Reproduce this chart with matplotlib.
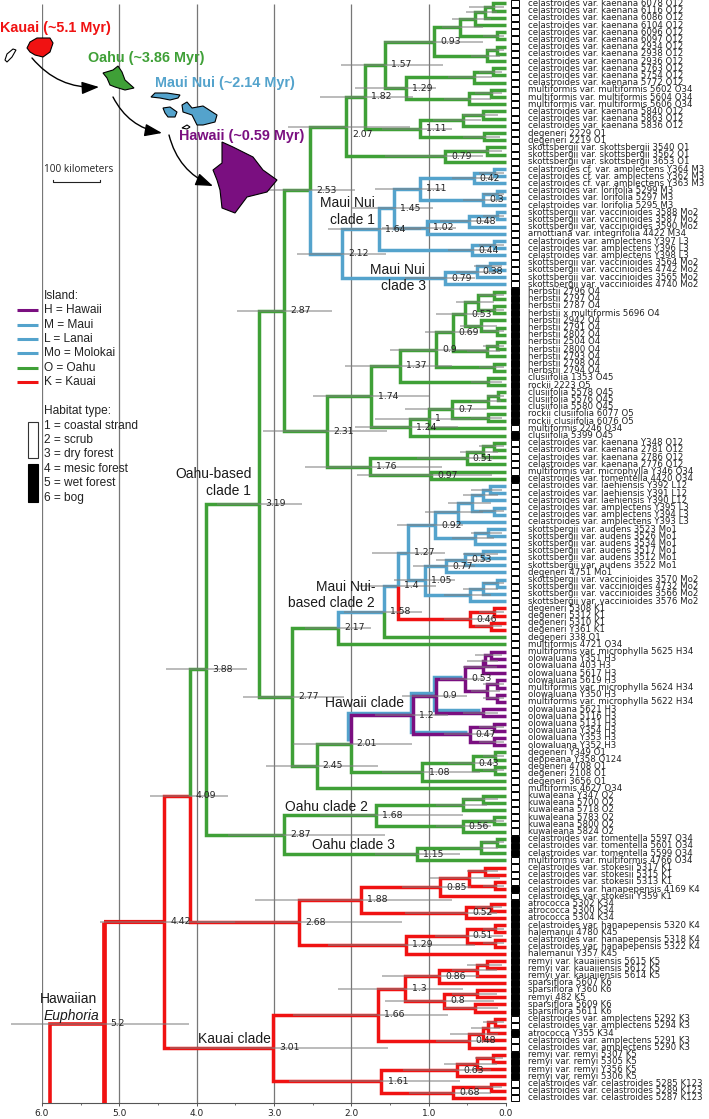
import re
import matplotlib
matplotlib.use('Agg')
from matplotlib import pyplot as plt
from matplotlib.patches import Polygon, Rectangle, FancyArrowPatch
from matplotlib.transforms import ScaledTranslation

plt.rcParams['font.family'] = ['DejaVu Sans']

# taxon labels, top to bottom
taxa = [
 'celastroides var. kaenana 6078 O12','celastroides var. kaenana 6116 O12','celastroides var. kaenana 6086 O12',
 'celastroides var. kaenana 6104 O12','celastroides var. kaenana 6096 O12','celastroides var. kaenana 6097 O12',
 'celastroides var. kaenana 2934 O12','celastroides var. kaenana 2938 O12','celastroides var. kaenana 2936 O12',
 'celastroides var. kaenana 5763 O12','celastroides var. kaenana 5754 O12','celastroides var. kaenana 5772 O12',
 'multiformis var. multiformis 5602 O34','multiformis var. multiformis 5604 O34','multiformis var. multiformis 5606 O34',
 'celastroides var. kaenana 5840 O12','celastroides var. kaenana 5863 O12','celastroides var. kaenana 5836 O12',
 'degeneri 2229 O1','degeneri 2219 O1',
 'skottsbergii var. skottsbergii 3540 O1','skottsbergii var. skottsbergii 3562 O1','skottsbergii var. skottsbergii 3653 O1',
 'celastroides cf. var. amplectens Y364 M3','celastroides cf. var. amplectens Y362 M3','celastroides cf. var. amplectens Y363 M3',
 'celastroides var. lorifolia 5299 M3','celastroides var. lorifolia 5297 M3','celastroides var. lorifolia 5295 M3',
 'skottsbergii var. vaccinioides 3588 Mo2','skottsbergii var. vaccinioides 3587 Mo2','skottsbergii var. vaccinioides 3590 Mo2',
 'arnottiana var. integrifolia 4422 M34',
 'celastroides var. amplectens Y397 L3','celastroides var. amplectens Y396 L3','celastroides var. amplectens Y398 L3',
 'skottsbergii var. vaccinioides 3564 Mo2','skottsbergii var. vaccinioides 4742 Mo2','skottsbergii var. vaccinioides 3565 Mo2',
 'skottsbergii var. vaccinioides 4740 Mo2',
 'herbstii 2796 O4','herbstii 2797 O4','herbstii 2787 O4','herbstii x multiformis 5696 O4','herbstii 2942 O4',
 'herbstii 2791 O4','herbstii 2802 O4','herbstii 2504 O4','herbstii 2800 O4','herbstii 2793 O4','herbstii 2798 O4','herbstii 2794 O4',
 'clusiifolia 1353 O45','rockii 2223 O5','clusiifolia 5578 O45','clusiifolia 5576 O45','clusiifolia 5580 O45',
 'rockii clusiifolia 6077 O5','rockii clusiifolia 6076 O5','multiformis 2246 O34','clusiifolia 5399 O45',
 'celastroides var. kaenana Y348 O12','celastroides var. kaenana 2781 O12','celastroides var. kaenana 2786 O12','celastroides var. kaenana 2776 O12',
 'multiformis var. microphylla Y346 O34','celastroides var. tomentella 4420 O34',
 'celastroides var. laehiensis Y392 L12','celastroides var. laehiensis Y391 L12','celastroides var. laehiensis Y390 L12',
 'celastroides var. amplectens Y395 L3','celastroides var. amplectens Y394 L3','celastroides var. amplectens Y393 L3',
 'skottsbergii var. audens 3523 Mo1','skottsbergii var. audens 3526 Mo1','skottsbergii var. audens 3534 Mo1',
 'skottsbergii var. audens 3517 Mo1','skottsbergii var. audens 3512 Mo1','skottsbergii var. audens 3522 Mo1','degeneri 4751 Mo1',
 'skottsbergii var. vaccinioides 3570 Mo2','skottsbergii var. vaccinioides 4732 Mo2','skottsbergii var. vaccinioides 3566 Mo2','skottsbergii var. vaccinioides 3576 Mo2',
 'degeneri 5308 K1','degeneri 5312 K1','degeneri 5310 K1','degeneri Y361 K1','degeneri 338 O1','multiformis 4721 O34',
 'multiformis var. microphylla 5625 H34','olowaluana Y351 H3','olowaluana 403 H3','olowaluana 5617 H3','olowaluana 5619 H3',
 'multiformis var. microphylla 5624 H34','olowaluana Y350 H3','multiformis var. microphylla 5622 H34','olowaluana 5621 H3','olowaluana 5116 H3',
 'olowaluana 5131 H3','olowaluana Y354 H3','olowaluana Y353 H3','olowaluana Y352 H3',
 'degeneri Y349 O1','deppeana Y358 O124','degeneri 4708 O1','degeneri 2108 O1','degeneri 3656 O1','multiformis 4627 O34',
 'kuwaleana Y347 O2','kuwaleana 5700 O2','kuwaleana 5718 O2','kuwaleana 5783 O2','kuwaleana 5800 O2','kuwaleana 5824 O2',
 'celastroides var. tomentella 5597 O34','celastroides var. tomentella 5601 O34','celastroides var. tomentella 5599 O34','multiformis var. multiformis 4766 O34',
 'celastroides var. stokesii 5317 K1','celastroides var. stokesii 5315 K1','celastroides var. stokesii 5313 K1',
 'celastroides var. hanapepensis 4169 K4','celastroides var. stokesii Y359 K1',
 'atrococca 5302 K34','atrococca 5300 K34','atrococca 5304 K34','celastroides var. hanapepensis 5320 K4','halemanui 4780 K45',
 'celastroides var. hanapepensis 5318 K4','celastroides var. hanapepensis 5322 K4','halemanui Y357 K45',
 'remyi var. kauaiiensis 5615 K5','remyi var. kauaiiensis 5612 K5','remyi var. kauaiiensis 5614 K5','sparsiflora 5607 K6','sparsiflora Y360 K6',
 'remyi 482 K5','sparsiflora 5609 K6','sparsiflora 5611 K6',
 'celastroides var. amplectens 5292 K3','celastroides var. amplectens 5294 K3','atrococca Y355 K34',
 'celastroides var. amplectens 5291 K3','celastroides var. amplectens 5290 K3',
 'remyi var. remyi 5307 K5','remyi var. remyi 5305 K5','remyi var. remyi Y356 K5','remyi var. remyi 5306 K5',
 'celastroides var. celastroides 5285 K123','celastroides var. celastroides 5289 K123','celastroides var. celastroides 5287 K123',
]

# taxon numbers (from 1) with a black habitat box
habitat_black = [*range(41, 60), 61, 67, 117, 118, 119, 124, *range(126, 142), 144, *range(147, 151)]

# tree pieces: (child,child)age/younger/older  * = print the age, =c = branch colour, t = tip
# green part of the Oahu clade 1
c093 = "(((((t,t).17/.03/.48,t).27/.12/.52,t).4/.2/.7,(t,t).12/.02/.3).6/.3/.83,((t,t).11/.02/.25,t).25/.08/.45).93/.3/1.58*"
c129 = "(((t,t).17/.05/.35,t).41/.18/.75,((t,t).19/.05/.4,t).48/.2/.8)1.29/.9/1.95*"
c111 = "(((t,t).3/.1/.55,t).56/.32/.95,(t,t).28/.08/.55)1.11/.7/1.6*"
c079a = "((t,t).25/.05/.5,t).79/.3/1.56*"
c207 = f"((({c093},{c129})1.57/.81/2.14*,{c111})1.82/1.2/2.4*,{c079a})2.07/1.24/2.82*"
# Maui Nui clades 1 and 3
c042 = "((t,t).15/.03/.35,t).42/.15/.7*"
c03 = "((t,t).12/.02/.3,t).3/.08/.55*"
c111b = f"({c042},{c03})1.11/.81/1.69*"
c048 = "((t,t).12/.02/.3,t).48/.2/.85*"
c102 = f"({c048},t)1.02/.65/1.6*"
c145 = f"({c111b},{c102})1.45/.95/2*"
c044 = "((t,t).15/.03/.35,t).44/.2/.75*"
c164 = f"({c145},{c044})1.64/1.1/2.3*"
c038 = "((t,t).21/.05/.42,t).38/.1/.65*"
c079b = f"({c038},t).79/.4/1.3*"
c212 = f"({c164},{c079b})2.12/1.55/2.7*=b"
c253 = f"({c207},{c212})2.53/1.95/3.14*"
# herbstii, clusiifolia
h053 = "(((t,t).15/.03/.35,(t,t).15/.03/.35).36/.15/.65,(t,(t,t).12/.02/.3).32/.12/.6).53/.3/.9*"
h069 = f"({h053},((t,t).12/.02/.3,t).25/.08/.5).69/.38/1.05*"
h09 = f"({h069},(t,t).15/.03/.35).9/.25/1.5*"
h137 = f"({h09},(t,t).23/.05/.45)1.37/.7/2.08*"
c07 = "(((t,t).1/.02/.25,t).23/.07/.45,(t,t).23/.05/.45).7/.25/1.3*"
c1 = f"({c07},t)1/.45/1.7*"
c124 = f"({c1},t)1.24/.62/1.95*"
c174 = f"({h137},{c124})1.74/1/2.5*"
c051 = "(((t,t).15/.03/.35,t).3/.1/.6,t).51/.17/1.15*"
c097 = "(t,t).97/.18/1.93*"
c176 = f"({c051},{c097})1.76/.83/2.6*"
c231 = f"({c174},{c176})2.31/1.54/3.14*"
c287a = f"({c253},{c231})2.87/2.25/3.48*"
# Maui Nui based clade 2
c062 = "((((t,t).21/.05/.45,t).3/.1/.55,(t,t).15/.03/.35).44/.2/.75,t).62/.3/1.05"
c040 = "((t,t).23/.05/.45,t).4/.15/.7"
c092 = f"({c062},{c040}).92/.55/1.41*"
c053b = "((t,t).3/.1/.55,t).53/.25/.9*"
c077 = f"({c053b},t).77/.4/1.2*"
c047b = "(((t,t).12/.02/.3,t).3/.1/.55,t).47/.2/.8"
c105 = f"({c077},{c047b})1.05/.66/1.45*"
c127 = f"({c092},{c105})1.27/.79/1.73*"
c046 = "((t,t).15/.03/.35,(t,t).2/.05/.4).46/.2/.8*=r"
c14 = f"({c127},{c046})1.4/.9/1.9*"
c158 = f"({c14},t=g)1.58/1.09/2.1*=b"
c217 = f"({c158},t)2.17/1.75/2.6*"
# Hawaii clade
h053h = "((((t,t).2/.05/.4,t).27/.1/.5,t).3/.12/.55=p,((t,t).12/.02/.3,(t,t).12/.02/.3).24/.08/.45=p).53/.3/.85*=q"
c09h = f"({h053h},(t=p,t=p).3/.1/.55=q).9/.5/1.35*=q"
c047h = "((t,t).15/.03/.35=p,(t,t).15/.03/.35=p).47/.15/.8*=q"
c12 = f"({c09h},{c047h})1.2/.75/1.7*=q"
c108 = "(((t,t).14/.03/.3,(t,t).14/.03/.3).43/.15/.75*,t)1.08/.34/1.6*"
c201 = f"({c12},{c108})2.01/1.22/2.75*"
c245 = f"({c201},t)2.45/1.65/3.1*"
c277 = f"({c217},{c245})2.77/2.1/3.4*"
c319 = f"({c287a},{c277})3.19/2.64/3.74*"
# Oahu clades 2 and 3
c168 = "(((t,t).3/.1/.55,t).56/.25/.9,((t,t).15/.03/.35,t).56/.2/.9*)1.68/.55/2.4*"
c115 = "(((t,t).12/.02/.3,t).32/.1/.6,t)1.15/.6/1.7*"
c287b = f"({c168},{c115})2.87/1.56/3.6*"
c388 = f"({c319},{c287b})3.88/3.35/4.4*=g"
# Kauai
c085 = "(((t,t).27/.1/.5,(t,t).14/.03/.3).48/.08/1,t).85/.45/1.35*"
c052 = "((t,t).19/.05/.4,t).52/.12/1.3*"
c188 = f"({c085},{c052})1.88/.7/3.25*"
c051r = "((t,t).14/.03/.3,(t,t).14/.03/.3).51/.04/.92*"
c129r = f"({c051r},t)1.29/.4/2.3*"
c268 = f"({c188},{c129r})2.68/1.35/4*"
c409 = f"({c388},{c268})4.09/3.6/4.6*"
c086 = "(((t,t).24/.05/.5,t).38/.12/.7,t).86/.35/1.6*"
c08 = "((t,t).38/.12/.7,(t,t).4/.1/.8).8/.15/1.56*"
c13 = f"({c086},{c08})1.3/.55/2.17*"
c048r = "((((t,t).14/.03/.3,t).23/.08/.45,t).3/.1/.72,t).48/.15/.9*"
c166 = f"({c13},{c048r})1.66/.75/2.75*"
c063 = "(((t,t).17/.04/.4,t).37/.12/.8,t).63/.2/1.33*"
c068 = "((t,t).19/.05/.4,t).68/.2/1.25*"
c161 = f"({c063},{c068})1.61/.6/2.8*"
c301 = f"({c166},{c161})3.01/1.53/4.35*"
c442 = f"({c409},{c301})4.42/3.5/5.25*"

# root above the crown, outgroup tip falls below the axis
root_age, root_lo, root_hi = 5.2, 4.1, 6.4
stem_age = 5.9
outgroup_tip = 155.9

colors = {'g': '#3fa037', 'b': '#54a3cc', 'r': '#f01212', 'p': '#7a0f80', 'q': '#7a0f80'}
lw = 2.5

# map outlines and legend, in pixels of the page
kauai_xy = [(27,48),(30,42),(37,38),(50,38),(53,43),(50,52),(43,57),(35,55),(30,52)]
niihau_xy = [(5,60),(7,54),(13,49),(16,50),(12,57),(7,62)]
oahu_xy = [(103,73),(113,70),(118,66),(122,72),(125,80),(134,88),(125,90),(115,87),(110,85),(107,78)]
molokai_xy = [(151,97),(155,93),(167,93),(180,95),(178,98),(170,100),(160,98)]
lanai_xy = [(163,108),(170,107),(177,112),(175,117),(168,117),(165,113)]
maui_xy = [(182,105),(187,102),(192,108),(203,106),(217,115),(215,122),(203,125),(197,125),(192,115),(183,112)]
kahoolawe_xy = [(182,128),(187,125),(190,127),(187,129)]
hawaii_xy = [(213,170),(222,163),(222,142),(233,147),(253,157),(263,170),(277,180),(267,192),(247,197),(235,213),(222,208),(220,190),(217,180)]

fig = plt.figure(figsize=(7.09, 11.19), dpi=100)
ax = fig.add_axes([42/709, 16/1119, 464/709, 1103/1119])
ax.set_xlim(6, 0)
ax.set_ylim(152.708, -0.486)


def parse(s, i=0):
    node = {'kids': []}
    if s[i] == '(':
        i += 1
        while True:
            kid, i = parse(s, i)
            node['kids'].append(kid)
            i += 1
            if s[i-1] == ')':
                break
    else:
        i += 1
    m = re.compile(r'[^,()]*').match(s, i)
    meta = m.group()
    i = m.end()
    node['color'] = None
    if '=' in meta:
        meta, node['color'] = meta.split('=')
    node['show'] = meta.endswith('*')
    meta = meta.rstrip('*')
    if meta:
        node['age'], node['lo'], node['hi'] = [float(v) for v in meta.split('/')]
    else:
        node['age'] = 0.0
    return node, i


tip_count = 0
bars = []
node_labels = []


def set_y(node):
    global tip_count
    if not node['kids']:
        node['y'] = tip_count
        tip_count += 1
    else:
        ys = [set_y(k) for k in node['kids']]
        node['y'] = (ys[0] + ys[-1]) / 2
    return node['y']


under = ax.transData + ScaledTranslation(-2.6/100, 2.4/100, fig.dpi_scale_trans)


def draw(node, color):
    for kid in node['kids']:
        c = kid['color'] or color
        xs = [node['age'], node['age'], kid['age']]
        ys = [node['y'], kid['y'], kid['y']]
        if c == 'q':
            ax.plot(xs, ys, color=colors['b'], lw=lw, transform=under, solid_joinstyle='miter',
                    solid_capstyle='butt', clip_on=False, zorder=2)
        ax.plot(xs, ys, color=colors[c], lw=lw, solid_joinstyle='miter',
                solid_capstyle='butt', clip_on=False, zorder=3)
        draw(kid, c)
    if node['kids']:
        bars.append((node['lo'], node['hi'], node['y']))
        if node['show']:
            node_labels.append((node['age'], node['y']))


crown, _ = parse(c442)
set_y(crown)
assert tip_count == len(taxa)
root_y = (crown['y'] + outgroup_tip) / 2

# grid
ax.vlines([1, 2, 3, 4, 5, 6], 0.07, 152.708, color='#777777', lw=0.9, zorder=1)

draw(crown, 'r')

# stem and root branches, drawn heavier
ax.plot([root_age, root_age], [crown['y'], 152.708], color=colors['r'], lw=3.4, solid_capstyle='butt', zorder=3)
ax.plot([root_age, crown['age']], [crown['y'], crown['y']], color=colors['r'], lw=3, solid_capstyle='butt', zorder=3)
ax.plot([stem_age, stem_age, root_age], [152.708, root_y, root_y], color=colors['r'], lw=2.6,
        solid_joinstyle='miter', solid_capstyle='butt', zorder=3)
bars.append((root_lo, root_hi, root_y))
node_labels.append((root_age, root_y))

# gray age intervals
for lo, hi, y in bars:
    ax.plot([hi, lo], [y, y], color='#808080', alpha=0.6, lw=1.25, solid_capstyle='butt', clip_on=False, zorder=4)

# node ages
for age, y in node_labels:
    dy = -8 if age == 2.07 else 0
    ax.annotate('%g' % age, (age, y), xytext=(4.4, dy * 0.72), textcoords='offset points',
                ha='left', va='center', fontsize=6.7, color='#222222', zorder=6, annotation_clip=False)

# taxon names and habitat boxes
for i, name in enumerate(taxa):
    ax.text(-0.281, i, name, fontsize=6.25, va='center', ha='left', color='#222222', clip_on=False)
    ax.barh(i, -0.103, height=0.86, left=-0.065, color='black' if i + 1 in habitat_black else 'white',
            edgecolor='black', lw=0.7, clip_on=False)

for s in ['top', 'left', 'right']:
    ax.spines[s].set_visible(False)
ax.spines['bottom'].set_color('#555555')
ax.set_yticks([])
ax.set_xticks([6, 5, 4, 3, 2, 1, 0])
ax.set_xticklabels(['6.0', '5.0', '4.0', '3.0', '2.0', '1.0', '0.0'], fontsize=6.5, color='#222222')
ax.set_xticks([5.5, 4.5, 3.5, 2.5, 1.5, 0.5], minor=True)
ax.tick_params(axis='x', which='major', length=2.5, width=0.7, pad=2, color='#555555')
ax.tick_params(axis='x', which='minor', length=1.3, width=0.6, color='#555555')

# page overlay
ov = fig.add_axes([0, 0, 1, 1])
ov.set_xlim(0, 709)
ov.set_ylim(1119, 0)
ov.axis('off')

for pts, c in [(kauai_xy, '#f01212'), (niihau_xy, 'white'), (oahu_xy, '#3fa037'), (molokai_xy, '#54a3cc'),
               (lanai_xy, '#54a3cc'), (maui_xy, '#54a3cc'), (kahoolawe_xy, 'white'), (hawaii_xy, '#7a0f80')]:
    ov.add_patch(Polygon(pts, closed=True, facecolor=c, edgecolor='black', lw=0.8, zorder=5))

for a, b in [((32, 58), (99, 87)), ((113, 97), (162, 133)), ((169, 135), (213, 186))]:
    ov.add_patch(FancyArrowPatch(a, b, connectionstyle='arc3,rad=0.25', arrowstyle='-|>,head_length=3.3,head_width=1.2',
                                 mutation_scale=3.2, color='black', lw=1.0, shrinkA=0, shrinkB=0, zorder=5))

sans = ['Liberation Sans', 'DejaVu Sans']
for txt, x, y, c in [('Kauai (~5.1 Myr)', 0, 28, '#f01212'), ('Oahu (~3.86 Myr)', 88, 58, '#3fa037'),
                     ('Maui Nui (~2.14 Myr)', 155, 83, '#54a3cc'), ('Hawaii (~0.59 Myr)', 179, 136, '#7a0f80')]:
    ov.text(x, y, txt, color=c, family=sans, fontsize=10.4, fontweight='bold', va='center', zorder=6)

ov.text(44, 169, '100 kilometers', family=['Open Sans', 'DejaVu Sans'], fontsize=7.2, va='center', color='#222222')
ov.plot([53, 53, 100, 100], [180, 182, 182, 180], color='#222222', lw=0.8)

# legend
island_labels = ['H = Hawaii', 'M = Maui', 'L = Lanai', 'Mo = Molokai', 'O = Oahu', 'K = Kauai']
island_colors = ['#7a0f80', '#54a3cc', '#54a3cc', '#54a3cc', '#3fa037', '#f01212']
island_rows = [310, 325, 339, 353, 368, 382]
ov.text(43.5, 296, 'Island:', family=sans, fontsize=8.6, va='center', color='#222222')
for lab, c, y in zip(island_labels, island_colors, island_rows):
    ov.text(43.5, y, lab, family=sans, fontsize=8.6, va='center', color='#222222')
    ov.plot([17, 38], [y, y], color=c, lw=2.2, solid_capstyle='butt')

habitat_labels = ['1 = coastal strand', '2 = scrub', '3 = dry forest', '4 = mesic forest', '5 = wet forest', '6 = bog']
habitat_rows = [426, 440, 454, 469, 483, 498]
ov.text(43.5, 411, 'Habitat type:', family=sans, fontsize=8.6, va='center', color='#222222')
for lab, y in zip(habitat_labels, habitat_rows):
    ov.text(43.5, y, lab, family=sans, fontsize=8.6, va='center', color='#222222')
ov.add_patch(Rectangle((27.5, 421.7), 10.5, 36.5, facecolor='white', edgecolor='#333333', lw=0.8))
ov.add_patch(Rectangle((27.5, 464.3), 10.5, 37.5, facecolor='black', edgecolor='black', lw=0.8))

# clade names
for txt, x, y, ha in [('Maui Nui', 375, 203, 'right'), ('clade 1', 375, 220, 'right'),
                      ('Maui Nui', 425, 270, 'right'), ('clade 3', 426, 286, 'right'),
                      ('Oahu-based', 252, 474, 'right'), ('clade 1', 251, 491, 'right'),
                      ('Maui Nui-', 375, 587, 'right'), ('based clade 2', 375, 603, 'right'),
                      ('Hawaii clade', 404, 703, 'right'), ('Oahu clade 2', 368, 807, 'right'),
                      ('Oahu clade 3', 395, 845, 'right'), ('Hawaiian', 97, 999, 'right'),
                      ('Kauai clade', 271, 1039, 'right')]:
    ov.text(x, y, txt, family=sans, fontsize=10, ha=ha, va='center', color='#1a1a1a', zorder=6)
ov.text(99, 1016, 'Euphoria', family=sans, fontsize=10, style='italic', ha='right', va='center', color='#1a1a1a', zorder=6)

plt.savefig('out.png', dpi=100)
